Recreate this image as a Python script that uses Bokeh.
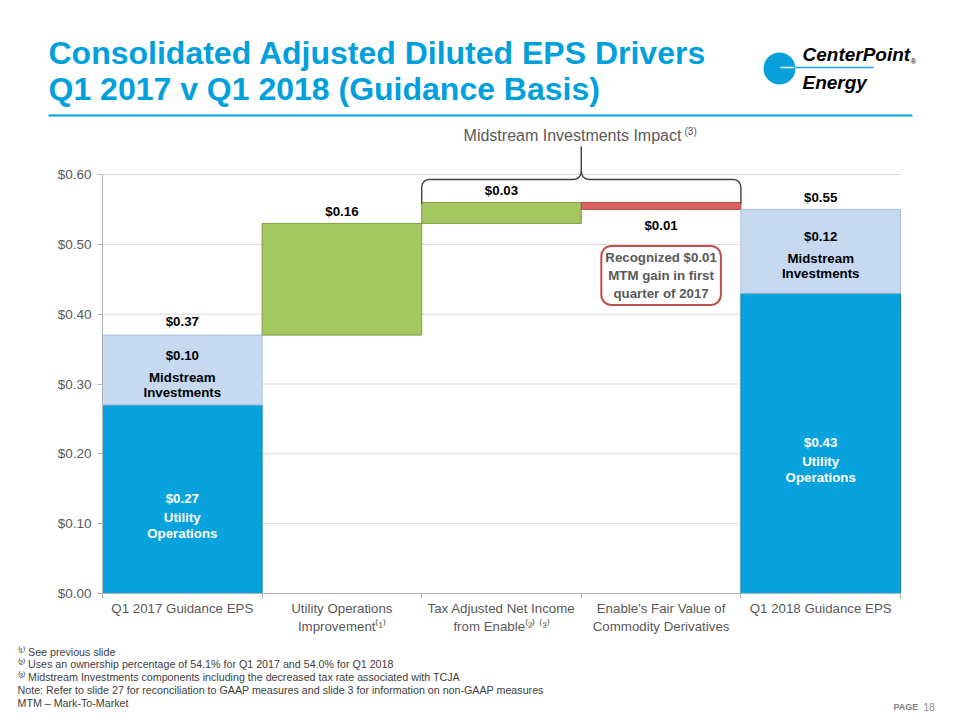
import numpy as np
from bokeh.plotting import figure
from bokeh.models import (ColumnDataSource, Range1d, FixedTicker, NumeralTickFormatter, Label, LinearAxis)
from bokeh.core.properties import value
from bokeh.embed import file_html
from bokeh.resources import INLINE

# ---------------- data ----------------
categories = [
    "Q1 2017 Guidance EPS",
    "Utility Operations\nImprovement\u207d\u00b9\u207e",
    "Tax Adjusted Net Income\nfrom Enable\u207d\u00b2\u207e \u207d\u00b3\u207e",
    "Enable's Fair Value of\nCommodity Derivatives",
    "Q1 2018 Guidance EPS",
]
start_utility = 0.27
start_midstream = 0.10
changes = [0.16, 0.03, -0.01]
end_utility = 0.43
end_midstream = 0.12
y_ticks = [0.0, 0.1, 0.2, 0.3, 0.4, 0.5, 0.6]
segment_names = ["Utility\nOperations", "Midstream\nInvestments"]

# ---------------- geometry (page pixels) ----------------
FONT = "Liberation Sans"
W, H = 960, 720
AX_L, AX_R, AX_T, AX_B = 102, 900, 174, 593     # where the chart's axes sit
FR_L, FR_R, FR_T, FR_B = 47, 916, 0, 600        # plotting frame (covers the slide)
PPU_X = (AX_R - AX_L) / len(categories)
PPU_Y = (AX_B - AX_T) / y_ticks[-1]


def X(px):
    return (px - AX_L) / PPU_X


def Y(py):
    return (AX_B - py) / PPU_Y


def DY(px):
    return px / PPU_Y


def PX(x):
    return AX_L + x * PPU_X


def PY(y):
    return AX_B - y * PPU_Y


BLUE = "#08a2dc"
LIGHT = "#c6d9f1"
GREEN = "#a5c762"
RED = "#dc6262"
TITLE_BLUE = "#00a0dd"
GRAY_TXT = "#595959"
AXIS_GRAY = "#b3b3b3"

p = figure(width=W, height=H, output_backend="svg", toolbar_location=None,
           x_range=Range1d(X(FR_L), X(FR_R)), y_range=Range1d(Y(FR_B), Y(FR_T)), title=None,
           min_border_left=FR_L, min_border_right=W - FR_R,
           min_border_top=FR_T, min_border_bottom=H - FR_B)
p.outline_line_color = None
p.background_fill_color = "white"
p.border_fill_color = "white"
p.xgrid.visible = False
p.ygrid.visible = False

# ---------------- gridlines (only across the chart area) ----------------
gl = [t for t in y_ticks if t > y_ticks[0]]
p.segment(x0=[0] * len(gl), x1=[len(categories)] * len(gl), y0=gl, y1=gl,
          line_color="#d9d9d9", line_width=1)

# ---------------- bars ----------------
left, right, bottom, top, fill, edge = [], [], [], [], [], []


def add_bar(i, b, t, f, e):
    left.append(i)
    right.append(i + 1)
    bottom.append(b)
    top.append(t)
    fill.append(f)
    edge.append(e)


start_total = round(start_utility + start_midstream, 2)
end_total = round(end_utility + end_midstream, 2)
add_bar(0, 0, start_utility, BLUE, "#0b86b4")
add_bar(0, start_utility, start_total, LIGHT, "#a7bedb")
level = start_total
step_info = []
for k, c in enumerate(changes):
    hi = round(level + c, 2)
    b, t = min(level, hi), max(level, hi)
    add_bar(k + 1, b, t, GREEN if c > 0 else RED, "#7e9c45" if c > 0 else "#b24a4a")
    step_info.append((k + 1, b, t, c))
    level = hi
last = len(categories) - 1
add_bar(last, 0, end_utility, BLUE, "#0b86b4")
add_bar(last, end_utility, end_total, LIGHT, "#a7bedb")

src = ColumnDataSource(dict(left=left, right=right, bottom=bottom, top=top, fill=fill, edge=edge))
p.quad(left="left", right="right", bottom="bottom", top="top", fill_color="fill",
       line_color="edge", line_width=1, source=src)

# ---------------- value labels ----------------
tx, ty, tt, tc = [], [], [], []


def money(v):
    return "$%.2f" % abs(v)


tx.append(0.5); ty.append(start_total + DY(14)); tt.append(money(start_total)); tc.append("black")
for i, b, t, c in step_info:
    tx.append(i + 0.5)
    if c > 0:
        ty.append(t + DY(11.5))
    else:
        ty.append(b - DY(16.5))
    tt.append(money(c)); tc.append("black")
tx.append(last + 0.5); ty.append(end_total + DY(12)); tt.append(money(end_total)); tc.append("black")

for i, util, mid in [(0, start_utility, start_midstream), (last, end_utility, end_midstream)]:
    mc = util + mid / 2
    uc = util / 2
    n1, n2 = segment_names[1].split("\n")
    for yy, s in [(mc + DY(14.5), money(mid)), (mc - DY(7.5), n1), (mc - DY(22.5), n2)]:
        tx.append(i + 0.5); ty.append(yy); tt.append(s); tc.append("black")
    u1, u2 = segment_names[0].split("\n")
    for yy, s in [(uc + DY(1), money(util)), (uc - DY(18.5), u1), (uc - DY(34.5), u2)]:
        tx.append(i + 0.5); ty.append(yy); tt.append(s); tc.append("white")

lsrc = ColumnDataSource(dict(x=tx, y=ty, text=tt, color=tc))
p.text(x="x", y="y", text="text", text_color="color", source=lsrc,
       text_font=value(FONT), text_font_size="13.3px", text_font_style="bold",
       text_align="center", text_baseline="middle")

# ---------------- axes ----------------
p.yaxis.fixed_location = 0
p.yaxis.bounds = (y_ticks[0], y_ticks[-1])
p.yaxis.ticker = FixedTicker(ticks=y_ticks)
p.yaxis.formatter = NumeralTickFormatter(format="$0.00")
p.yaxis.axis_line_color = AXIS_GRAY
p.yaxis.major_tick_line_color = AXIS_GRAY
p.yaxis.major_tick_out = 5
p.yaxis.major_tick_in = 0
p.yaxis.minor_tick_line_color = None
p.yaxis.major_label_standoff = 6
p.yaxis.major_label_text_font = FONT
p.yaxis.major_label_text_font_size = "13.5px"
p.yaxis.major_label_text_color = GRAY_TXT

centers = [i + 0.5 for i in range(len(categories))]
bounds = list(range(len(categories) + 1))

# category labels: the default bottom axis (sits just under the frame)
xa = p.below[0]
xa.bounds = (0, len(categories))
xa.ticker = FixedTicker(ticks=centers)
xa.major_label_overrides = {c: lab for c, lab in zip(centers, categories)}
xa.axis_line_color = None
xa.major_tick_line_color = None
xa.minor_tick_line_color = None
xa.major_tick_out = 0
xa.major_tick_in = 0
xa.minor_tick_out = 0
xa.major_label_standoff = 0
xa.major_label_text_font = FONT
xa.major_label_text_font_size = "13.3px"
xa.major_label_text_color = GRAY_TXT

# axis line with the boundary ticks, pinned to $0.00
xline = LinearAxis(fixed_location=0, bounds=(0, len(categories)),
                   ticker=FixedTicker(ticks=[], minor_ticks=bounds),
                   axis_line_color=AXIS_GRAY, major_tick_line_color=None,
                   minor_tick_line_color=AXIS_GRAY, minor_tick_out=5, minor_tick_in=0,
                   major_label_text_font_size="0px")
p.add_layout(xline, "below")


# ---------------- brace over the Enable bars ----------------
def bez(p0, c, p2, n=10):
    out = []
    for t in np.linspace(0, 1, n):
        out.append(((1 - t) ** 2 * p0[0] + 2 * (1 - t) * t * c[0] + t ** 2 * p2[0],
                    (1 - t) ** 2 * p0[1] + 2 * (1 - t) * t * c[1] + t ** 2 * p2[1]))
    return out


bx0, bx1, bc = PX(2), PX(4), PX(3)
yend = PY(step_info[1][2]) + 1
yh = yend - 24
ytop = yh - 33
r = 9
brace_left = [(bx0, yend)] + bez((bx0, yh + r), (bx0, yh), (bx0 + r, yh)) + \
    bez((bc - r, yh), (bc, yh), (bc, yh - r)) + [(bc, ytop)]
brace_right = bez((bc, yh - r), (bc, yh), (bc + r, yh)) + \
    bez((bx1 - r, yh), (bx1, yh), (bx1, yh + r)) + [(bx1, yend)]
for pts in (brace_left, brace_right):
    p.line([X(a) for a, _ in pts], [Y(b) for _, b in pts], line_color="#404040", line_width=1.4)


def text(px, py, s, size, color="black", style="normal", align="left"):
    p.text(x=[X(px)], y=[Y(py)], text=[s], text_font=value(FONT), text_font_size=size,
           text_color=color, text_font_style=style, text_align=align, text_baseline="middle")


text(572, 135, "Midstream Investments Impact", "16px", GRAY_TXT, align="center")
text(684, 131, "(3)", "10px", GRAY_TXT)

# ---------------- MTM note box ----------------
p.add_layout(Label(x=3.5, y=step_info[2][1] - DY(66), text="Recognized $0.01\nMTM gain in first\nquarter of 2017",
                   text_font=FONT, text_font_size="13.3px", text_font_style="bold", text_color=GRAY_TXT,
                   text_align="center", text_baseline="middle",
                   background_fill_color="white", border_line_color="#c0504d", border_line_width=2,
                   border_radius=10, padding=4))

# ---------------- title ----------------
text(48, 52, "Consolidated Adjusted Diluted EPS Drivers", "32px", TITLE_BLUE, "bold")
text(48, 88, "Q1 2017 v Q1 2018 (Guidance Basis)", "32px", TITLE_BLUE, "bold")
p.segment(x0=[X(48)], y0=[Y(115)], x1=[X(912)], y1=[Y(115)], line_color=TITLE_BLUE, line_width=2)

# ---------------- logo ----------------
p.scatter(x=[X(779)], y=[Y(68)], marker="circle", size=32, fill_color="#0aa0dc", line_color=None)
p.segment(x0=[X(780)], y0=[Y(67)], x1=[X(794)], y1=[Y(67)], line_color="#e8f6fc", line_width=1.3)
p.segment(x0=[X(795)], y0=[Y(67)], x1=[X(873)], y1=[Y(67)], line_color="#1aa3dc", line_width=1.3)
text(802, 54, "CenterPoint", "19px", "black", "bold italic")
text(802, 82, "Energy", "19px", "black", "bold italic")
text(913, 61, "\u00ae", "8px", "black", align="center")

# ---------------- footnotes (side panels, so not clipped) ----------------
notes = ("\u207d\u00b9\u207e See previous slide\n"
         "\u207d\u00b2\u207e Uses an ownership percentage of 54.1% for Q1 2017 and 54.0% for Q1 2018\n"
         "\u207d\u00b3\u207e Midstream Investments components including the decreased tax rate associated with TCJA\n"
         "Note: Refer to slide 27 for reconciliation to GAAP measures and slide 3 for information on non-GAAP measures\n"
         "MTM \u2013 Mark-To-Market")
p.add_layout(Label(x=X(17), y=Y(645), text=notes, text_font=FONT, text_font_size="10.7px", text_color="#404040",
                   text_align="left", text_baseline="top", text_line_height=1.08), "below")
p.add_layout(Label(x=X(893), y=Y(706), text="PAGE", text_font=FONT, text_font_size="9px",
                   text_color="#7f7f7f", text_font_style="bold", text_baseline="middle"), "right")
p.add_layout(Label(x=X(923), y=Y(706), text="18", text_font=FONT, text_font_size="10px",
                   text_color="#8c8c8c", text_baseline="middle"), "right")

open("out.html", "w").write(file_html(p, INLINE))
